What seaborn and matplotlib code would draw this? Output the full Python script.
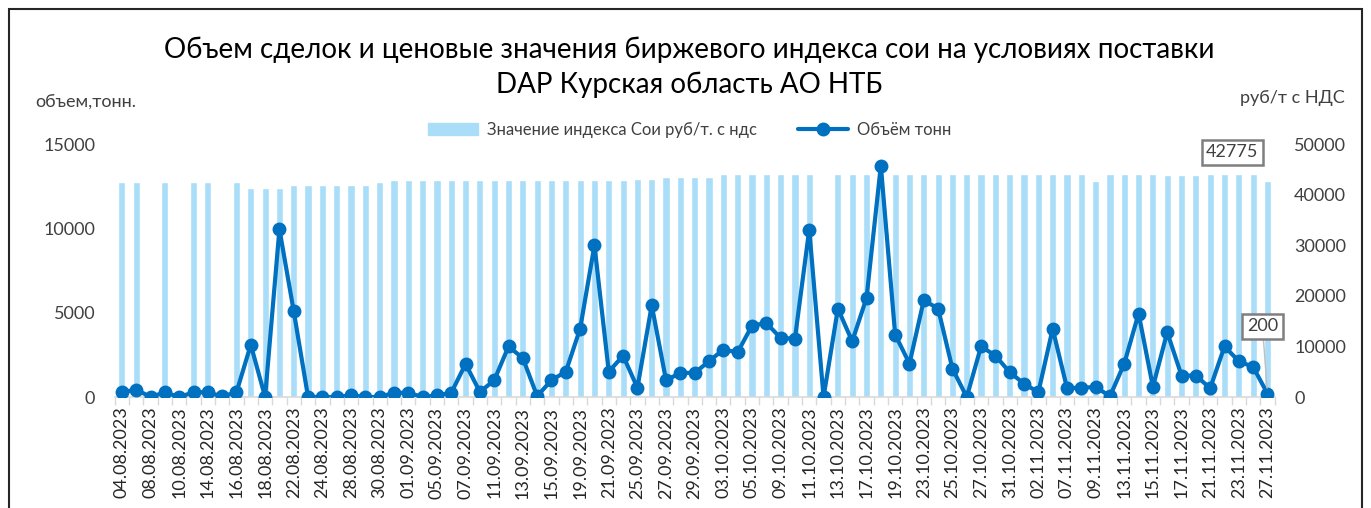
import numpy as np
import pandas as pd
import seaborn as sns
import matplotlib.pyplot as plt
from matplotlib.patches import Patch, Rectangle
from matplotlib.lines import Line2D

# trading days (every other one is labelled on the axis)
dates = ['04.08.2023', '07.08.2023', '08.08.2023', '09.08.2023', '10.08.2023', '11.08.2023',
         '14.08.2023', '15.08.2023', '16.08.2023', '17.08.2023', '18.08.2023', '21.08.2023',
         '22.08.2023', '23.08.2023', '24.08.2023', '25.08.2023', '28.08.2023', '29.08.2023',
         '30.08.2023', '31.08.2023', '01.09.2023', '04.09.2023', '05.09.2023', '06.09.2023',
         '07.09.2023', '08.09.2023', '11.09.2023', '12.09.2023', '13.09.2023', '14.09.2023',
         '15.09.2023', '18.09.2023', '19.09.2023', '20.09.2023', '21.09.2023', '22.09.2023',
         '25.09.2023', '26.09.2023', '27.09.2023', '28.09.2023', '29.09.2023', '02.10.2023',
         '03.10.2023', '04.10.2023', '05.10.2023', '06.10.2023', '09.10.2023', '10.10.2023',
         '11.10.2023', '12.10.2023', '13.10.2023', '16.10.2023', '17.10.2023', '18.10.2023',
         '19.10.2023', '20.10.2023', '23.10.2023', '24.10.2023', '25.10.2023', '26.10.2023',
         '27.10.2023', '30.10.2023', '31.10.2023', '01.11.2023', '02.11.2023', '03.11.2023',
         '07.11.2023', '08.11.2023', '09.11.2023', '10.11.2023', '13.11.2023', '14.11.2023',
         '15.11.2023', '16.11.2023', '17.11.2023', '20.11.2023', '21.11.2023', '22.11.2023',
         '23.11.2023', '24.11.2023', '27.11.2023']

# index value, rub/t incl. VAT (nan = no index that day)
nan = np.nan
price = [42500, 42500, nan, 42500, nan, 42500, 42500, nan, 42500, 41400,
         41400, 41400, 41900, 41900, 41900, 41900, 41900, 41900, 42500, 42800,
         42800, 42800, 42800, 42800, 42800, 42800, 42800, 42800, 42800, 42800,
         42800, 42800, 42800, 42800, 42800, 42800, 43100, 43100, 43400, 43400,
         43400, 43400, 44000, 44000, 44000, 44000, 44000, 44000, 44000, nan,
         44000, 44000, 44000, 44000, 44000, 44000, 44000, 44000, 44000, 44000,
         44000, 44000, 44000, 44000, 44000, 44000, 44000, 44000, 42700, 44000,
         44000, 44000, 44000, 43800, 43800, 43800, 44000, 44000, 44000, 44000,
         42775]

# traded volume, tonnes
volume = [280, 440, 0, 280, 0, 280, 280, 30, 280, 3100,
          0, 9950, 5080, 0, 0, 0, 100, 0, 0, 250,
          250, 0, 100, 250, 1960, 300, 990, 3000, 2300, 50,
          1000, 1500, 4050, 9000, 1500, 2450, 550, 5440, 990, 1430,
          1430, 2120, 2810, 2650, 4230, 4390, 3500, 3460, 9930, 0,
          5240, 3300, 5870, 13720, 3700, 1980, 5740, 5240, 1680, 0,
          3000, 2450, 1470, 790, 280, 4040, 540, 540, 600, 40,
          1980, 4950, 600, 3840, 1270, 1270, 520, 3000, 2120, 1780,
          200]

bar_color = '#A9DDF8'
line_color = '#0070C0'
txt_color = '#404040'

sns.set_theme(style='white')
plt.rcParams['font.family'] = ['Lato', 'DejaVu Sans']

df = pd.DataFrame({'date': dates, 'price': price, 'volume': volume})
df['pos'] = np.arange(len(df))

fig = plt.figure(figsize=(13.71, 5.08), dpi=100)
ax = fig.add_axes([0.0837, 0.2185, 0.846, 0.498])

# bars on the primary axes (drawn behind), their scale shown on the right
sns.barplot(data=df, x='date', y='price', order=dates, color=bar_color,
            width=0.5, errorbar=None, saturation=1, ax=ax)

ax2 = ax.twinx()
sns.lineplot(data=df, x='pos', y='volume', ax=ax2, color=line_color, lw=3,
             marker='o', markersize=10, markeredgewidth=0)

ax.set_ylim(0, 50000)
ax.set_yticks(range(0, 50001, 10000))
ax.yaxis.tick_right()
ax2.set_ylim(0, 15000)
ax2.set_yticks(range(0, 15001, 5000))
ax2.yaxis.tick_left()

for a in (ax, ax2):
    a.set_xlim(-0.5, len(dates) - 0.5)
    a.set_xlabel('')
    a.set_ylabel('')
    for s in a.spines.values():
        s.set_visible(False)
    a.tick_params(axis='y', length=0, labelsize=13, labelcolor=txt_color, pad=14)
    a.grid(False)

ax.spines['bottom'].set_visible(True)
ax.spines['bottom'].set_color('#D9D9D9')
ax.spines['bottom'].set_linewidth(1.2)
ax.set_xticks(np.arange(0, len(dates), 2))
ax.set_xticklabels(dates[::2], rotation=90)
ax.set_xticks(np.arange(-0.5, len(dates), 1), minor=True)
ax.tick_params(axis='x', which='major', length=0, labelsize=13, labelcolor='#262626', pad=7)
ax.tick_params(axis='x', which='minor', bottom=True, length=6, width=1, color='#D9D9D9')
ax2.tick_params(axis='x', bottom=False, labelbottom=False)

# data labels
ax.annotate('42775', xy=(77.55, 48400), ha='center', va='center', fontsize=13,
            color=txt_color,
            bbox=dict(boxstyle='square,pad=0.25', fc='white', ec='#7F7F7F', lw=1.8))
ax2.annotate('200', xy=(80, 200), xytext=(79.65, 4200), ha='center', va='center',
             fontsize=13, color=txt_color,
             bbox=dict(boxstyle='square,pad=0.25', fc='white', ec='#7F7F7F', lw=1.8),
             arrowprops=dict(arrowstyle='-', color='#BFBFBF', lw=1, shrinkA=0, shrinkB=4))

# titles and axis captions
fig.text(0.503, 1 - 50 / 508, 'Объем сделок и ценовые значения биржевого индекса сои на условиях поставки',
         ha='center', va='center', fontsize=20, color='#000000')
fig.text(0.503, 1 - 85 / 508, 'DAP Курская область АО НТБ',
         ha='center', va='center', fontsize=20, color='#000000')
fig.text(35 / 1371, 1 - 103 / 508, 'объем,тонн.', ha='left', va='center',
         fontsize=13, color=txt_color)
fig.text(1345 / 1371, 1 - 98 / 508, 'руб/т с НДС', ha='right', va='center',
         fontsize=13, color=txt_color)

handles = [Patch(color=bar_color),
           Line2D([0], [0], color=line_color, lw=3, marker='o', markersize=9)]
fig.legend(handles, ['Значение индекса Сои руб/т. с ндс', 'Объём тонн'],
           loc='center', bbox_to_anchor=(0.503, 1 - 130 / 508), ncol=2, frameon=False,
           fontsize=12, handlelength=3, columnspacing=2.5, handletextpad=0.5,
           labelcolor=txt_color)

# chart frame
fig.patches.append(Rectangle((9 / 1371, -0.2), 1353 / 1371, 1.2 - 9 / 508,
                             transform=fig.transFigure, fill=False, ec='#262626', lw=1.5))

fig.savefig('out.png', dpi=100)
